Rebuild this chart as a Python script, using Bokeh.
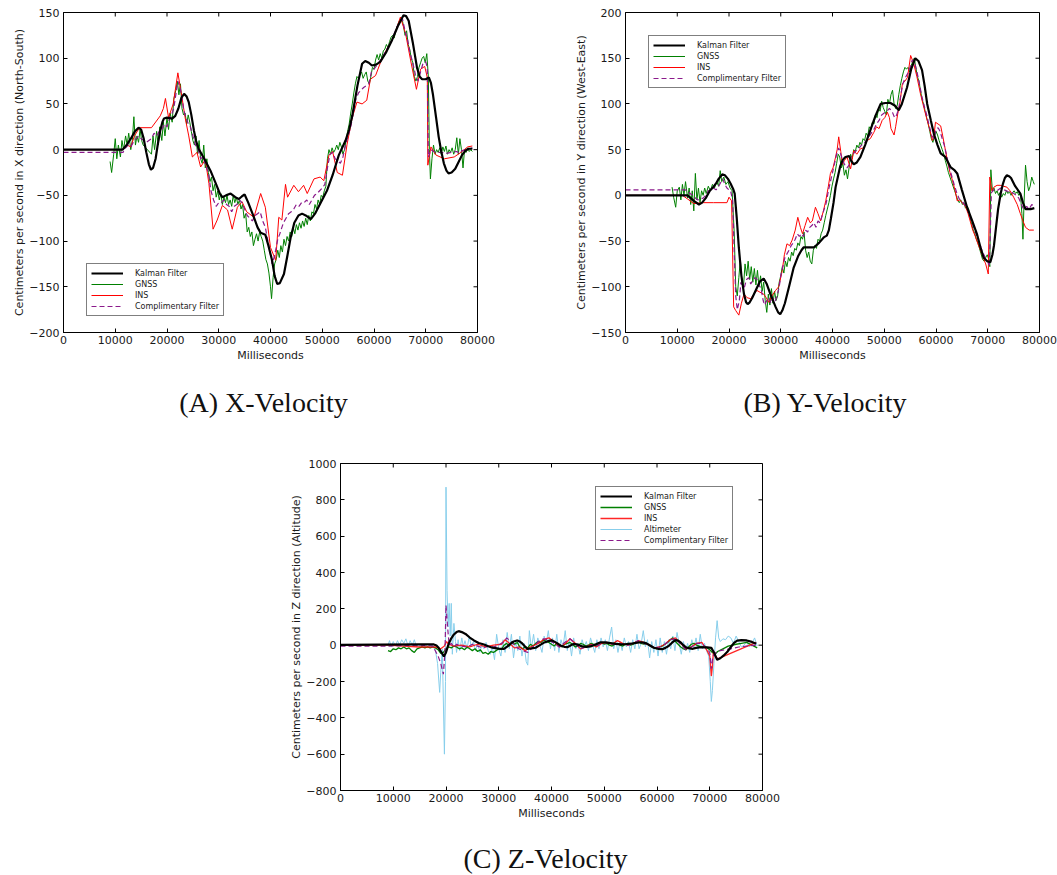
from bokeh.plotting import figure
from bokeh.layouts import column, row, Spacer
from bokeh.models import (Range1d, FixedTicker, CustomJSTickFormatter, Legend, LegendItem)
from bokeh.core.properties import value
from bokeh.embed import file_html
from bokeh.resources import INLINE

# ---------------------------------------------------------------- data
# Each series is a list of (milliseconds, cm/s) samples.

x_ticks = [0, 10000, 20000, 30000, 40000, 50000, 60000, 70000, 80000]
ya_ticks = [-200, -150, -100, -50, 0, 50, 100, 150]
yb_ticks = [-150, -100, -50, 0, 50, 100, 150, 200]
yc_ticks = [-800, -600, -400, -200, 0, 200, 400, 600, 800, 1000]

legend_labels = ["Kalman Filter", "GNSS", "INS", "Altimeter", "Complimentary Filter"]
captions = ["(A) X-Velocity", "(B) Y-Velocity", "(C) Z-Velocity"]
y_titles = ["Centimeters per second in X direction (North-South)",
            "Centimeters per second in Y direction (West-East)",
            "Centimeters per second in Z direction (Altitude)"]

# X velocity (North-South)
kf_a = [(0, 0), (11400, 0), (12200, 5), (13000, 12), (13800, 20), (14500, 24), (15000, 22), (15500, 12),
        (16000, -3), (16500, -16), (16900, -22), (17300, -20), (17800, -10), (18200, 5), (18700, 21),
        (19100, 30), (19400, 34), (20000, 35), (21000, 34), (21600, 37), (22200, 45), (22800, 57),
        (23300, 61), (23800, 58), (24200, 52), (24700, 38), (25200, 21), (25600, 10), (26100, 1),
        (27200, -10), (28400, -23), (29500, -38), (30200, -48), (30700, -52), (31400, -50), (32300, -48),
        (33200, -52), (33900, -54), (34500, -51), (35000, -49), (35700, -58), (36800, -74), (37500, -85),
        (38100, -91), (39000, -93), (39600, -105), (40300, -121), (40800, -138), (41300, -147),
        (41800, -146), (42600, -136), (43200, -118), (43900, -96), (44600, -80), (45400, -72),
        (46100, -70), (46800, -72), (47800, -76), (48600, -70), (49700, -58), (50900, -45), (52000, -28),
        (53200, -6), (54500, 10), (55200, 22), (55800, 37), (56800, 70), (57700, 94), (58300, 97),
        (59000, 95), (59600, 92), (60400, 93), (61200, 96), (62300, 106), (63500, 120), (64600, 135),
        (65700, 147), (66200, 146), (66700, 141), (67500, 117), (68300, 90), (68800, 80), (69300, 77),
        (70000, 77), (70600, 79), (71000, 73), (71400, 60), (72000, 35), (72500, 14), (73000, -2),
        (73500, -15), (74000, -23), (74400, -26), (75000, -25), (75700, -21), (76300, -14), (77000, -6),
        (77700, -1), (78300, 1), (79000, 1)]

gnss_a = [(9000, -13), (9300, -25), (9700, -5), (10000, 12), (10300, -10), (10600, 5), (11000, -8),
          (11300, 10), (11600, 0), (12000, 15), (12300, 5), (12600, 18), (13000, 0), (13300, 10),
          (13600, 36), (13900, 5), (14200, 15), (14500, 8), (14800, 22), (15100, 10), (15400, 5),
          (17000, -5), (17300, 15), (17600, 0), (18000, 20), (18300, 5), (18600, 25), (19000, 10),
          (19300, 30), (19600, 15), (20000, 35), (20300, 22), (20600, 40), (21000, 30), (21300, 55),
          (21700, 65), (22000, 75), (22300, 60), (22600, 72), (22900, 45), (23200, 38), (23500, 40),
          (23800, 28), (24100, 38), (24400, 30), (24700, 20), (25000, 10), (25300, 5), (25600, 15),
          (25900, -5), (26200, 10), (26500, -10), (26800, -15), (27100, 5), (27400, -20), (27700, -10),
          (28000, -25), (28300, -35), (28600, -30), (28900, -45), (29200, -38), (29500, -52),
          (29800, -45), (30100, -55), (30400, -48), (30700, -60), (31000, -52), (31300, -58),
          (31600, -50), (31900, -60), (32200, -55), (32500, -62), (32800, -50), (33100, -58),
          (33400, -52), (33700, -60), (34000, -55), (34300, -65), (34600, -60), (34900, -75),
          (35200, -70), (35500, -90), (35800, -85), (36100, -95), (36400, -90), (36700, -105),
          (37000, -98), (37300, -92), (37600, -100), (37900, -90), (38200, -95), (38500, -100),
          (38800, -110), (39100, -120), (39400, -125), (39700, -135), (40000, -150), (40200, -163),
          (40500, -140), (40800, -125), (41100, -120), (41400, -110), (41700, -118), (42000, -105),
          (42300, -112), (42600, -98), (42900, -105), (43200, -95), (43500, -100), (43800, -90),
          (44100, -95), (44400, -85), (44700, -92), (45000, -82), (45300, -88), (45600, -80),
          (45900, -86), (46200, -78), (46500, -84), (46800, -75), (47100, -82), (47400, -72),
          (47700, -78), (48000, -68), (48300, -70), (48600, -60), (48900, -65), (49200, -55),
          (49500, -60), (49800, -50), (50100, -52), (50400, -45), (50700, -40), (51000, -10),
          (51300, 0), (51600, -5), (51900, 2), (52200, -3), (52500, 0), (52800, 5), (53100, 0),
          (53400, 8), (53700, 3), (54000, -5), (54300, 0), (54600, 10), (54900, 20), (55200, 28),
          (55500, 40), (55800, 50), (56100, 62), (56400, 72), (56700, 80), (57000, 78), (57300, 82),
          (57600, 85), (57900, 78), (58200, 82), (58500, 85), (58800, 75), (59100, 72), (59400, 80),
          (59700, 90), (60000, 88), (60300, 98), (60600, 104), (60900, 98), (61200, 105),
          (61500, 100), (61800, 108), (62100, 110), (62400, 115), (62700, 112), (63000, 118),
          (63300, 123), (63600, 125), (63900, 122), (64200, 130), (64500, 135), (64800, 140),
          (65100, 142), (65400, 144), (65700, 135), (66000, 125), (66300, 130), (66600, 115),
          (66900, 110), (67200, 100), (67500, 95), (67800, 80), (68100, 75), (68400, 80), (68700, 90),
          (69000, 95), (69300, 100), (69600, 102), (69900, 95), (70200, 105), (70500, 80), (70700, 0),
          (70900, -32), (71200, -10), (71500, 5), (71800, -5), (72100, 0), (72400, -3), (72700, 2),
          (73000, -5), (73300, 3), (73600, -2), (73900, 4), (74200, -5), (74500, 0), (74800, -3),
          (75100, 2), (75400, -5), (75700, 0), (76000, 13), (76300, -5), (76600, 12), (76900, 0),
          (77200, -20), (77500, 0), (77800, -3), (78100, 2), (78400, -2), (78700, 0), (79000, -2)]

ins_a = [(0, 0), (11500, 0), (12300, 5), (13000, 3), (13700, 15), (14700, 24), (17000, 24),
         (18700, 37), (19300, 45), (19700, 56), (20300, 35), (21200, 50), (22100, 84), (22900, 57),
         (23500, 35), (24200, 15), (24900, -8), (25800, -3), (26500, -19), (27400, -11), (28100, -37),
         (28900, -87), (29700, -77), (30700, -61), (31700, -66), (32600, -87), (33600, -63),
         (34500, -57), (35400, -68), (36800, -74), (38100, -48), (39000, -63), (40000, -107),
         (41000, -121), (41600, -74), (42200, -77), (42900, -38), (43300, -52), (44500, -39),
         (45400, -46), (46400, -39), (47100, -48), (48400, -32), (49600, -30), (50300, -34),
         (51300, -6), (52000, -2), (52900, -25), (53900, -28), (54800, 6), (55800, 35), (56700, 52),
         (57700, 50), (58600, 54), (59300, 77), (60300, 81), (61300, 96), (62500, 110), (63800, 123),
         (65100, 145), (66100, 127), (67100, 97), (68200, 66), (69000, 88), (69800, 91), (70300, 79),
         (70400, -17), (71000, 3), (72000, -6), (73600, -10), (75500, -8), (76800, -3), (78100, 3),
         (79000, 4)]

cf_a = [(0, -3), (11500, -3), (12000, 2), (12500, 5), (13000, 3), (13500, 8), (14000, 12), (14500, 15),
        (15000, 12), (15500, 10), (16000, 8), (16500, 10), (17000, 12), (17500, 18), (18000, 15),
        (18500, 20), (19000, 22), (19500, 28), (20000, 25), (20500, 35), (21000, 40), (21300, 45),
        (21700, 60), (22100, 75), (22500, 68), (22800, 60), (23200, 45), (23500, 38), (24000, 30),
        (24500, 25), (25000, 15), (25500, 5), (26000, 0), (26500, -10), (27000, -8), (27500, -18),
        (28000, -25), (28500, -45), (29000, -55), (29500, -62), (30000, -58), (30500, -58),
        (31000, -55), (31500, -60), (32000, -62), (32500, -68), (33000, -62), (33500, -60),
        (34000, -55), (34500, -58), (35000, -65), (35500, -72), (36000, -75), (36500, -78),
        (37000, -72), (37500, -70), (38000, -68), (38500, -78), (39000, -85), (39500, -100),
        (40000, -115), (40300, -125), (40700, -118), (41000, -110), (41400, -98), (41800, -92),
        (42200, -85), (42500, -80), (43000, -75), (43500, -70), (44000, -68), (44500, -65),
        (45000, -60), (45500, -62), (46000, -58), (46500, -58), (47000, -55), (47500, -60),
        (48000, -55), (48500, -50), (49000, -48), (49500, -45), (50000, -42), (50500, -38),
        (51000, -20), (51500, -5), (52000, -3), (52500, -10), (53000, -12), (53500, -15), (54000, -8),
        (54500, 5), (55000, 15), (55500, 25), (56000, 40), (56500, 55), (57000, 62), (57500, 65),
        (58000, 68), (58500, 70), (59000, 72), (59500, 85), (60000, 88), (60500, 92), (61000, 96),
        (61500, 100), (62000, 105), (62500, 110), (63000, 115), (63500, 120), (64000, 128),
        (64500, 135), (65000, 140), (65500, 143), (66000, 130), (66500, 120), (67000, 105),
        (67500, 95), (68000, 82), (68500, 75), (69000, 85), (69500, 95), (70000, 96), (70300, 90),
        (70500, -8), (71000, 0), (71500, -2), (72000, -3), (73000, -3), (74000, -4), (75000, -3),
        (76000, -2), (76500, -4), (77000, -1), (78000, 0), (79000, 2)]

# Y velocity (West-East)
kf_b = [(0, 0), (12000, 0), (12600, -3), (13200, -6), (14200, -10), (14800, -8), (15500, -3), (16300, 5),
        (17100, 10), (17600, 14), (18000, 18), (18700, 23), (19200, 22), (19800, 18), (20300, 13),
        (20800, 7), (21100, 2), (21500, -25), (21900, -57), (22400, -88), (22900, -108), (23300, -117),
        (23600, -119), (24000, -117), (24500, -112), (25400, -101), (26000, -94), (26700, -91),
        (27300, -97), (28000, -108), (29000, -122), (29500, -128), (29900, -130), (30300, -126),
        (30800, -118), (31600, -100), (32500, -79), (33400, -66), (34000, -60), (34400, -57),
        (35400, -57), (36400, -57), (37400, -52), (38300, -46), (38900, -44), (39300, -38),
        (39700, -25), (40200, -8), (40600, 9), (41100, 22), (41500, 32), (42000, 39), (42500, 42),
        (43200, 43), (43600, 38), (44100, 34), (44700, 36), (45400, 42), (46300, 55), (47300, 71),
        (48300, 87), (49300, 100), (50200, 101), (51200, 101), (52100, 98), (52800, 93), (53400, 100),
        (54400, 118), (55200, 138), (56000, 150), (56600, 147), (57300, 137), (57800, 120),
        (58300, 100), (59000, 82), (59600, 67), (60300, 55), (60900, 46), (61800, 42), (62800, 31),
        (63500, 28), (64100, 24), (65000, 6), (66000, -13), (67000, -28), (67900, -42), (68600, -57),
        (69200, -68), (69900, -72), (70500, -73), (70900, -65), (71200, -55), (71600, -35),
        (72000, -15), (72500, 2), (72900, 12), (73300, 19), (73700, 22), (74100, 21), (74500, 19),
        (75300, 10), (76300, 2), (76800, -8), (77300, -15), (78300, -15), (79000, -14)]

gnss_b = [(9000, 9), (9300, -2), (9700, -13), (10000, 5), (10400, 9), (10700, -5), (11000, 12),
          (11300, 0), (11600, 15), (12000, -3), (12300, 8), (12600, -10), (12900, 5), (13200, -17),
          (13500, 24), (13800, -5), (14100, 8), (14400, -8), (14700, 5), (15000, 0), (15300, 8),
          (15600, 2), (16000, 10), (16400, 5), (16800, 12), (17200, 8), (17600, 15), (18000, 10),
          (18300, 27), (18600, 15), (19000, 20), (19400, 12), (19800, 15), (20200, 8), (20600, 5),
          (21000, -40), (21300, -100), (21600, -110), (21900, -90), (22200, -70), (22500, -95),
          (22800, -100), (23100, -75), (23400, -88), (23700, -72), (24000, -92), (24300, -78),
          (24600, -95), (24900, -80), (25200, -98), (25500, -82), (25800, -100), (26100, -88),
          (26400, -105), (26700, -95), (27000, -115), (27300, -128), (27600, -108), (27900, -120),
          (28200, -102), (28500, -118), (28800, -105), (29100, -115), (29400, -110), (29700, -95),
          (30000, -88), (30300, -78), (30600, -85), (30900, -72), (31200, -78), (31500, -68),
          (31800, -72), (32100, -62), (32400, -66), (32700, -58), (33000, -60), (33300, -52),
          (33600, -55), (33900, -45), (34200, -48), (34500, -40), (34800, -60), (35100, -68),
          (35400, -62), (35700, -72), (36000, -75), (36300, -60), (36600, -55), (36900, -58),
          (37200, -48), (37500, -50), (37800, -42), (38100, -38), (38400, -30), (38700, -22),
          (39000, -15), (39300, -8), (39600, 0), (39900, 10), (40200, 18), (40500, 25), (40800, 35),
          (41100, 45), (41400, 42), (41700, 30), (42000, 35), (42300, 22), (42600, 28), (42900, 18),
          (43200, 30), (43500, 45), (43800, 40), (44100, 50), (44400, 48), (44700, 55), (45000, 52),
          (45300, 58), (45600, 55), (45900, 62), (46200, 60), (46500, 68), (46800, 65), (47100, 75),
          (47400, 72), (47700, 80), (48000, 78), (48300, 88), (48600, 85), (48900, 95), (49200, 92),
          (49500, 103), (49800, 96), (50100, 92), (50400, 88), (50700, 105), (51000, 100),
          (51300, 110), (51600, 115), (51900, 100), (52200, 95), (52500, 98), (52800, 110),
          (53100, 120), (53400, 128), (53700, 135), (54000, 140), (54300, 138), (54600, 140),
          (54900, 135), (55200, 142), (55500, 146), (55800, 150), (56100, 140), (56400, 130),
          (56700, 125), (57000, 115), (57300, 105), (57600, 100), (57900, 92), (58200, 85),
          (58500, 78), (58800, 70), (59100, 62), (59400, 58), (59700, 65), (60000, 70), (60300, 66),
          (60600, 60), (60900, 55), (61200, 50), (61500, 45), (61800, 38), (62100, 32), (62400, 25),
          (62700, 20), (63000, 15), (63300, 10), (63600, 5), (63900, 0), (64200, -5), (64500, -8),
          (64800, -5), (65100, -10), (65400, -8), (65700, -14), (66000, -12), (66300, -15),
          (66600, -25), (66900, -32), (67200, -38), (67500, -42), (67800, -48), (68100, -52),
          (68400, -58), (68700, -64), (69000, -70), (69300, -72), (69600, -68), (69900, -65),
          (70200, -70), (70400, -78), (70600, 28), (70900, 5), (71200, 8), (71500, 2), (71800, 5),
          (72100, 0), (72400, 3), (72700, -2), (73000, 2), (73300, 0), (73600, 5), (73900, 2),
          (74200, 4), (74500, 0), (74800, 3), (75100, 5), (75400, 2), (75700, 4), (76000, 0),
          (76300, 2), (76600, -20), (76800, -48), (77000, -10), (77300, 33), (77600, 15), (77900, 5),
          (78200, 10), (78500, 20), (78800, 15), (79000, 12)]

ins_b = [(0, 0), (11000, 0), (12000, -4), (13200, -9), (15000, -8), (17000, -8), (19600, -8),
         (20000, -2), (20500, -6), (20900, -122), (21300, -126), (21900, -131), (22400, -118),
         (22900, -108), (23500, -112), (24200, -113), (24800, -108), (25400, -104), (26000, -106),
         (26700, -108), (27200, -112), (27700, -117), (28300, -110), (29000, -104), (29600, -100),
         (30300, -82), (30700, -65), (31200, -53), (31700, -55), (32200, -49), (32800, -38),
         (33300, -24), (33800, -35), (34200, -42), (34700, -33), (35200, -24), (35700, -30),
         (36100, -28), (36700, -13), (37200, -20), (37700, -28), (38200, -18), (38700, -6),
         (39200, 10), (39600, 24), (40100, 30), (40600, 42), (40900, 50), (41200, 64), (41600, 48),
         (41900, 34), (42300, 38), (42800, 42), (43500, 29), (44100, 49), (44700, 45), (45400, 51),
         (46000, 52), (46700, 60), (47300, 62), (48000, 69), (48500, 75), (49000, 73), (49600, 82),
         (50100, 85), (50600, 91), (51000, 85), (51300, 73), (51900, 66), (52200, 75), (52600, 89),
         (53000, 100), (53500, 122), (54000, 125), (54500, 129), (55100, 153), (55700, 144),
         (56300, 130), (57000, 111), (57700, 95), (58300, 82), (58800, 72), (59300, 60), (59600, 65),
         (59900, 80), (60400, 78), (60900, 76), (61300, 65), (61600, 56), (62200, 38), (62700, 25),
         (63200, 16), (63700, 5), (64100, -6), (64600, -5), (65200, -9), (65700, -12), (66200, -20),
         (66600, -28), (67100, -38), (67600, -45), (68100, -53), (68600, -60), (69100, -68),
         (69600, -75), (70100, -86), (70400, 20), (70800, 5), (71200, 9), (71800, 11), (72400, 11),
         (73000, 10), (73700, 9), (74300, 5), (75000, -2), (75700, -10), (76300, -20), (76800, -28),
         (77300, -35), (78000, -38), (78900, -38)]

cf_b = [(0, 6), (11500, 6), (12000, 5), (12500, 2), (13000, 0), (13500, -3), (14000, -5), (14500, -4),
        (15000, -3), (15500, 0), (16000, 5), (16500, 6), (17000, 8), (17500, 6), (18000, 10),
        (18500, 15), (18800, 18), (19200, 12), (19600, 8), (20000, 6), (20300, 5), (20700, -5),
        (21000, -60), (21300, -110), (21600, -125), (22000, -115), (22300, -95), (22700, -100),
        (23000, -100), (23400, -92), (23800, -90), (24200, -97), (24600, -93), (25000, -90),
        (25400, -92), (25800, -98), (26200, -102), (26600, -115), (26900, -120), (27300, -115),
        (27700, -112), (28100, -118), (28500, -112), (28900, -116), (29300, -110), (29700, -100),
        (30000, -88), (30400, -78), (30800, -68), (31200, -64), (31600, -60), (32000, -55),
        (32400, -52), (32800, -48), (33200, -42), (33600, -45), (34000, -42), (34400, -45),
        (34800, -38), (35200, -40), (35600, -35), (36000, -33), (36400, -30), (36800, -35),
        (37200, -28), (37600, -30), (38000, -22), (38400, -15), (38800, -8), (39200, 5), (39600, 15),
        (40000, 25), (40400, 35), (40800, 45), (41200, 52), (41600, 45), (42000, 38), (42400, 33),
        (42800, 30), (43200, 33), (43600, 42), (44000, 45), (44400, 48), (44800, 50), (45200, 52),
        (45600, 55), (46000, 56), (46500, 60), (47000, 64), (47500, 68), (48000, 72), (48500, 78),
        (49000, 82), (49500, 88), (50000, 90), (50500, 92), (51000, 95), (51500, 92), (52000, 85),
        (52400, 88), (52800, 95), (53200, 110), (53600, 122), (54000, 128), (54500, 133),
        (55000, 140), (55400, 148), (55800, 146), (56200, 138), (56700, 125), (57200, 110),
        (57700, 98), (58200, 88), (58700, 76), (59200, 65), (59600, 62), (60000, 72), (60400, 74),
        (60800, 70), (61200, 62), (61600, 55), (62000, 45), (62500, 32), (63000, 22), (63500, 12),
        (64000, 3), (64500, -4), (65000, -6), (65500, -10), (66000, -14), (66500, -22), (67000, -30),
        (67500, -38), (68000, -46), (68500, -54), (69000, -62), (69500, -68), (70000, -72),
        (70300, -78), (70500, -40), (70700, 3), (71200, 6), (71800, 5), (72500, 8), (73200, 6),
        (74000, 4), (74800, 3), (75500, 0), (76000, -3), (76500, -10), (77000, -16), (77500, -12),
        (78000, -15), (78500, -10), (79000, -12)]

# Z velocity (altitude)
kf_c = [(0, 2), (15000, 4), (17700, 4), (18200, -2), (18600, -14), (19100, -38), (19600, -62), (20000, -40),
        (20500, 7), (21000, 38), (21500, 59), (22000, 72), (22400, 77), (23000, 72), (23700, 62),
        (24500, 42), (25300, 26), (26200, 12), (27200, 4), (28000, -6), (28800, -14), (30000, -19),
        (31000, -20), (31600, -8), (32200, 7), (32800, 20), (33500, 26), (34000, 20), (34400, 11),
        (34900, -5), (35400, -20), (36200, -18), (37000, -14), (37800, 0), (38500, 13), (39300, 22),
        (40100, 26), (40900, 14), (41700, -2), (42400, -9), (43000, -11), (43600, -2), (44200, 7),
        (45000, 3), (45800, -7), (46600, -9), (47400, -7), (48400, 5), (49300, 16), (50200, 15),
        (51200, 11), (52200, 7), (53100, 4), (54000, 5), (55000, 8), (56000, 13), (56900, 16),
        (57500, 14), (58000, 10), (58700, -2), (59400, -14), (60200, -20), (61000, -22), (61600, -15),
        (62200, -5), (62900, 15), (63500, 28), (64000, 25), (64500, 15), (65000, 0), (65500, -12),
        (66200, -18), (66800, -20), (67400, -15), (68000, -12), (69500, -12), (70300, -15),
        (70800, -40), (71400, -80), (72000, -72), (72600, -58), (73300, -38), (74000, -10),
        (74600, 12), (75200, 25), (76000, 28), (77000, 26), (78000, 18), (78800, 8)]

gnss_c = [(9000, -30), (9500, -35), (10000, -20), (10500, -25), (11000, -15), (11500, -20), (12000, -10),
          (12500, -20), (13000, -15), (13500, -30), (14000, -40), (14500, -20), (15000, -15),
          (15500, -10), (16000, -15), (16500, -10), (17000, -15), (17500, -10), (18000, -15),
          (18500, -25), (19000, -45), (19500, -40), (20000, -20), (20500, -10), (21000, -15),
          (21500, -5), (22000, -10), (22500, -20), (23000, -15), (23500, -25), (24000, -10),
          (24500, -20), (25000, -30), (25500, -20), (26000, -35), (26500, -25), (27000, -45),
          (27500, -40), (28000, -50), (28500, -35), (29000, -40), (29500, -30), (30000, -20),
          (30500, -25), (31000, 0), (31500, 10), (32000, -5), (32500, 20), (33000, 5), (33500, 15),
          (34000, -10), (34500, -20), (35000, -10), (35500, -15), (36000, 5), (36500, -5),
          (37000, 10), (37500, 20), (38000, 15), (38500, 30), (39000, 20), (39500, 15), (40000, 5),
          (40500, -5), (41000, 10), (41500, 0), (42000, -10), (42500, 5), (43000, 10), (43500, 15),
          (44000, 5), (44500, -10), (45000, -5), (45500, 10), (46000, 5), (46500, -5), (47000, 0),
          (47500, 10), (48000, 5), (48500, -5), (49000, 10), (49500, 15), (50000, 5), (50500, 10),
          (51000, 0), (51500, -5), (52000, 5), (52500, 10), (53000, 0), (53500, -5), (54000, 5),
          (54500, 10), (55000, 0), (55500, 5), (56000, 15), (56500, 20), (57000, 10), (57500, 5),
          (58000, 10), (58500, 0), (59000, -10), (59500, -15), (60000, -20), (60500, -10),
          (61000, -5), (61500, 5), (62000, 15), (62500, 30), (63000, 40), (63500, 20), (64000, 5),
          (64500, -10), (65000, -20), (65500, -25), (66000, -10), (66500, 5), (67000, 10),
          (67500, 0), (68000, -5), (68500, -10), (69000, -5), (69500, -15), (70000, -25),
          (70500, -40), (71000, -50), (71500, -35), (72500, -20), (73500, -5), (75000, 5),
          (76000, 10), (77000, 15), (78000, 0), (79000, -15)]

ins_c = [(0, 0), (9000, 0), (12000, -5), (15000, -10), (18000, -10), (19000, -20), (19700, -5),
         (20100, 20), (20500, 5), (21500, -5), (23000, 0), (24500, -10), (26000, 5), (27500, -10),
         (29000, 0), (30500, 5), (31200, 30), (32000, 10), (33000, -15), (34000, -10), (35000, -30),
         (36000, -10), (37500, 10), (38500, 30), (39500, 40), (40500, 20), (41500, -10), (42500, 5),
         (43500, 35), (44500, 10), (45500, -20), (46500, -10), (47500, 5), (48500, -10), (49500, 10),
         (50500, 15), (51500, 5), (52500, 25), (53500, 10), (54500, 0), (55500, 10), (56500, 25),
         (57500, 15), (58500, 0), (59500, -15), (60500, -10), (61500, 5), (62500, 30), (63500, 40),
         (64500, 10), (65500, -20), (66500, -10), (67500, 10), (68500, 15), (69500, -30),
         (70000, -60), (70300, -170), (70500, -120), (70700, -30), (71000, -60), (71500, -75),
         (78800, 15)]

alt_c = [(9000, 0), (9300, 25), (9600, -10), (10000, 20), (10400, -5), (10800, 25), (11200, 0),
         (11600, 30), (12000, 10), (12400, 35), (12800, -5), (13200, 25), (13600, 0), (14000, 30),
         (14400, -10), (14800, 5), (15200, -15), (15600, 5), (16000, -10), (16500, 5), (17000, 0),
         (17500, -5), (18000, -30), (18400, -100), (18800, -260), (19000, -150), (19300, -20),
         (19700, -600), (19900, -200), (20000, 870), (20200, 300), (20400, 100), (20600, 230),
         (20800, 50), (21000, 230), (21200, -50), (21500, 120), (21800, 20), (22000, -40),
         (22300, 30), (22600, -30), (23000, 40), (23300, -10), (23600, 25), (24000, -20), (24400, 50),
         (24800, -10), (25200, 20), (25600, -30), (26000, 10), (26400, -40), (26800, 0), (27200, -20),
         (27600, 15), (28000, -30), (28400, -50), (28800, -10), (29200, -80), (29600, 60),
         (30000, -20), (30400, -60), (30800, 30), (31200, -40), (31600, 70), (32000, -20),
         (32400, 60), (32800, -70), (33200, 20), (33600, -30), (34000, 50), (34400, -60), (34800, 10),
         (35200, -90), (35500, -110), (35800, 80), (36200, -20), (36600, 60), (37000, -30),
         (37400, 40), (37800, 0), (38200, -40), (38600, 50), (39000, 10), (39400, 80), (39800, -20),
         (40200, 40), (40600, -30), (41000, 60), (41400, -40), (41800, 30), (42200, -10), (42600, 80),
         (43000, -30), (43400, 30), (43800, -60), (44200, 40), (44600, -20), (45000, 10),
         (45400, -50), (45800, 30), (46200, -10), (46600, 20), (47000, -30), (47400, 40), (47800, 0),
         (48200, -40), (48600, 30), (49000, -20), (49400, 40), (49800, -10), (50200, 30),
         (50600, -30), (51000, 40), (51400, 100), (51800, -20), (52200, 30), (52600, -40), (53000, 20),
         (53400, -30), (53800, 40), (54200, -10), (54600, 20), (55000, -40), (55400, 30),
         (55800, -20), (56200, 60), (56600, -20), (57000, 10), (57400, 80), (57800, -10), (58200, 30),
         (58600, -70), (59000, 20), (59400, -40), (59800, 30), (60200, -60), (60600, 40),
         (61000, -40), (61400, 20), (61800, -50), (62200, 30), (62600, -20), (63000, 50),
         (63400, -30), (63800, 70), (64200, 10), (64600, -50), (65000, 20), (65400, -30), (65800, 10),
         (66200, -40), (66600, 30), (67000, -20), (67400, 40), (67800, -30), (68200, 60),
         (68600, -20), (69000, 10), (69400, -30), (69800, -60), (70100, -200), (70300, -310),
         (70500, -250), (70800, -100), (71100, 40), (71400, 135), (71700, 40), (72000, 20),
         (72500, 35), (73000, 30), (73500, 50), (74000, 40), (74500, 10), (75000, 50), (75500, 20),
         (76000, -10), (76500, 0), (77000, 20), (77500, -10), (78000, 10), (78500, 40), (79000, -5)]

cf_c = [(0, -5), (9000, -5), (12000, -3), (15000, 0), (17500, -5), (18500, -60), (19000, -100),
        (19500, -160), (19800, -40), (20000, 220), (20300, 100), (20600, 0), (21000, 10), (21500, -10),
        (22000, 5), (23000, -5), (24000, -10), (25000, 5), (26000, -5), (27000, -15), (28000, -5),
        (29000, -10), (30000, 0), (31000, 20), (31500, 40), (32500, 15), (33500, -15), (34500, -30),
        (35500, -40), (36500, -10), (37500, 20), (38500, 35), (39500, 30), (40500, 10), (41500, -10),
        (42500, 15), (43500, 35), (44500, 10), (45500, -20), (46500, -10), (47500, 0), (48500, -5),
        (49500, 10), (50500, 15), (51500, 5), (52500, 10), (53500, 5), (54500, 0), (55500, 10),
        (56500, 25), (57500, 10), (58500, 0), (59500, -15), (60500, -10), (61500, 5), (62500, 30),
        (63500, 35), (64500, 5), (65500, -25), (66500, -10), (67500, 10), (68500, 10), (69500, -20),
        (70000, -40), (70300, -130), (70600, -60), (71200, -40), (72000, -30), (73000, -25),
        (74000, -20), (75500, -10), (77000, -5), (78500, 0), (79000, -2)]

# ---------------------------------------------------------------- styling
FONT = "DejaVu Sans"
C_KF, C_GNSS, C_INS, C_ALT, C_CF = "black", "#008000", "#ff0000", "#87ceeb", "#8b1a8b"
TICK_PX = 4

minus_fmt = "return tick < 0 ? '\\u2212' + Math.abs(tick) : String(tick);"


def xs(series):
    return [t for t, _ in series]


def ys(series):
    return [v for _, v in series]


def make_panel(width, height, y_lo, y_hi, y_ticks, y_title, borders):
    left, right, top, bottom = borders
    p = figure(width=width, height=height, output_backend="svg", toolbar_location=None,
               x_range=Range1d(0, 80000), y_range=Range1d(y_lo, y_hi),
               min_border_left=left, min_border_right=right,
               min_border_top=top, min_border_bottom=bottom)
    p.xgrid.visible = False
    p.ygrid.visible = False
    p.outline_line_color = "black"
    p.outline_line_width = 1
    p.background_fill_color = "white"
    p.border_fill_color = "white"

    for ax, ticks in ((p.xaxis[0], x_ticks), (p.yaxis[0], y_ticks)):
        ax.ticker = FixedTicker(ticks=ticks)
        ax.formatter = CustomJSTickFormatter(code=minus_fmt)
        ax.major_tick_in = TICK_PX
        ax.major_tick_out = 0
        ax.minor_tick_line_color = None
        ax.axis_line_color = "black"
        ax.major_tick_line_color = "black"
        ax.major_label_text_font = FONT
        ax.major_label_text_font_size = "11px"
        ax.major_label_text_color = "#1a1a1a"
        ax.axis_label_text_font = FONT
        ax.axis_label_text_font_size = "11px"
        ax.axis_label_text_font_style = "normal"
        ax.axis_label_text_color = "#1a1a1a"
    p.xaxis[0].axis_label = "Milliseconds"
    p.xaxis[0].major_label_standoff = 3
    p.xaxis[0].axis_label_standoff = 2
    p.yaxis[0].axis_label = y_title
    p.yaxis[0].major_label_standoff = 4
    p.yaxis[0].axis_label_standoff = 0

    # mirrored inward tick marks along the top and right edges of the frame
    frame_w = width - left - right
    frame_h = height - top - bottom
    dx = 80000 / frame_w * TICK_PX
    dy = (y_hi - y_lo) / frame_h * TICK_PX
    p.segment(x0=x_ticks, y0=[y_hi] * len(x_ticks), x1=x_ticks, y1=[y_hi - dy] * len(x_ticks),
              line_color="black", line_width=1)
    p.segment(x0=[80000] * len(y_ticks), y0=y_ticks, x1=[80000 - dx] * len(y_ticks), y1=y_ticks,
              line_color="black", line_width=1)
    return p


def add_legend(p, items, loc):
    lg = Legend(items=items, location=loc, border_line_color="black", border_line_width=1,
                background_fill_color="white", background_fill_alpha=1.0,
                label_text_font=FONT, label_text_font_size="8px", label_text_color="#1a1a1a",
                glyph_width=32, glyph_height=10, label_height=10, label_standoff=12,
                spacing=1, padding=4, margin=0)
    p.add_layout(lg)


def draw_xy(p, kf, gnss, ins, cf):
    r_g = p.line(xs(gnss), ys(gnss), color=C_GNSS, line_width=1)
    r_i = p.line(xs(ins), ys(ins), color=C_INS, line_width=1)
    r_c = p.line(xs(cf), ys(cf), color=C_CF, line_width=1.2, line_dash="5 3")
    r_k = p.line(xs(kf), ys(kf), color=C_KF, line_width=2.2)
    return [LegendItem(label=legend_labels[0], renderers=[r_k]),
            LegendItem(label=legend_labels[1], renderers=[r_g]),
            LegendItem(label=legend_labels[2], renderers=[r_i]),
            LegendItem(label=legend_labels[4], renderers=[r_c])]


def caption(width, height, cx, cy, text):
    c = figure(width=width, height=height, output_backend="svg", toolbar_location=None,
               x_range=Range1d(0, width), y_range=Range1d(0, height),
               x_axis_type=None, y_axis_type=None, min_border=0)
    c.outline_line_color = None
    c.xgrid.visible = False
    c.ygrid.visible = False
    c.text(x=[cx], y=[cy], text=[text], text_font=value("Liberation Serif"),
           text_font_size="28px", text_align="center", text_baseline="middle",
           text_color="#111111")
    return c


# ---------------------------------------------------------------- panels
pa = make_panel(562, 372, -200, 150, ya_ticks, y_titles[0], (63, 85, 12, 40))
add_legend(pa, draw_xy(pa, kf_a, gnss_a, ins_a, cf_a), (23, 16))

pb = make_panel(495, 372, -150, 200, yb_ticks, y_titles[1], (63, 18, 12, 40))
add_legend(pb, draw_xy(pb, kf_b, gnss_b, ins_b, cf_b), (23, 244))

pc = make_panel(525, 390, -800, 1000, yc_ticks, y_titles[2], (63, 40, 23, 40))
r_alt = pc.line(xs(alt_c), ys(alt_c), color=C_ALT, line_width=1)
r_gc = pc.line(xs(gnss_c), ys(gnss_c), color=C_GNSS, line_width=1.3)
r_ic = pc.line(xs(ins_c), ys(ins_c), color=C_INS, line_width=1.3, line_alpha=0.85)
r_cc = pc.line(xs(cf_c), ys(cf_c), color=C_CF, line_width=1.2, line_dash="5 3")
r_kc = pc.line(xs(kf_c), ys(kf_c), color=C_KF, line_width=2.2)
add_legend(pc, [LegendItem(label=legend_labels[0], renderers=[r_kc]),
                LegendItem(label=legend_labels[1], renderers=[r_gc]),
                LegendItem(label=legend_labels[2], renderers=[r_ic]),
                LegendItem(label=legend_labels[3], renderers=[r_alt]),
                LegendItem(label=legend_labels[4], renderers=[r_cc])], (255, 240))

cap_a = caption(562, 68, 263, 38, captions[0])
cap_b = caption(495, 68, 263, 38, captions[1])
cap_c = caption(525, 45, 268, 17, captions[2])

page = column(row(pa, pb),
              row(cap_a, cap_b),
              row(Spacer(width=277, height=390), pc),
              row(Spacer(width=277, height=45), cap_c))

open("out.html", "w").write(file_html(page, INLINE, title="Velocity estimates"))
